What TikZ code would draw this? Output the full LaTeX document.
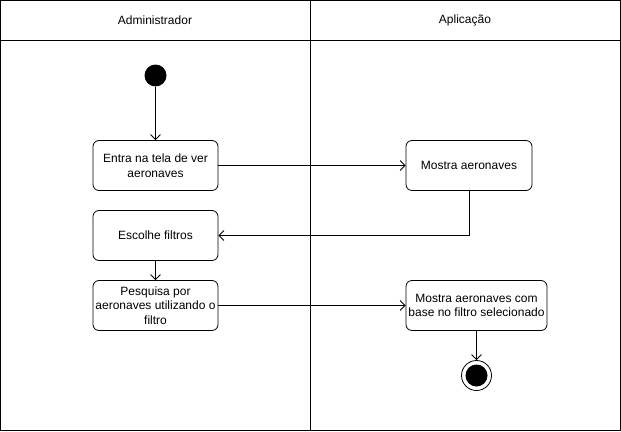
\documentclass[tikz,border=0pt]{standalone}
\usepackage{fontspec}
\setmainfont{Liberation Sans}
\usetikzlibrary{arrows.meta}
\begin{document}
\begin{tikzpicture}[x=1pt,y=-1pt,
  every node/.style={font=\fontsize{12}{14.5}\selectfont},
  act/.style={draw,rounded corners=6pt,line width=0.8pt,align=center,inner sep=0pt},
  flow/.style={draw,line width=0.8pt,-{Straight Barb[length=5pt,width=10pt]}},
  lane/.style={draw,line width=0.8pt}]
\useasboundingbox (0,0) rectangle (621,431);
\fill[white] (0,0) rectangle (621,431);
\draw[lane] (0.5,0.5) rectangle (620.5,430.5);
\draw[lane] (0.5,40.5) -- (620.5,40.5);
\draw[lane] (310.5,0.5) -- (310.5,430.5);
\node (h1) at (155,20) {Administrador};
\node (h2) at (465,20) {Aplicação};
\node[circle,fill=black,minimum size=22pt,inner sep=0pt] (start) at (155.5,75.5) {};
\node[act,minimum width=125pt,minimum height=50pt] (a1) at (155.5,165.5) {Entra na tela de ver\\aeronaves};
\node[act,minimum width=126pt,minimum height=50pt] (b1) at (469,165.5) {Mostra aeronaves};
\node[act,minimum width=125pt,minimum height=50pt] (a2) at (155.5,235.5) {Escolhe filtros};
\node[act,minimum width=125pt,minimum height=50pt] (a3) at (155.5,305.5) {Pesquisa por\\aeronaves utilizando o\\filtro};
\node[act,minimum width=141pt,minimum height=50pt] (b2) at (476.5,305.5) {Mostra aeronaves com\\base no filtro selecionado};
\node[circle,draw,line width=0.8pt,minimum size=30pt,inner sep=0pt] (end) at (476.5,375.5) {};
\node[circle,fill=black,minimum size=22pt,inner sep=0pt] (endin) at (end.center) {};
\path[flow] (start) -- (a1);
\path[flow] (a1) -- (b1);
\path[flow] (b1.south) |- (a2.east);
\path[flow] (a2) -- (a3);
\path[flow] (a3) -- (b2);
\path[flow] (b2) -- (end);
\end{tikzpicture}
\end{document}
